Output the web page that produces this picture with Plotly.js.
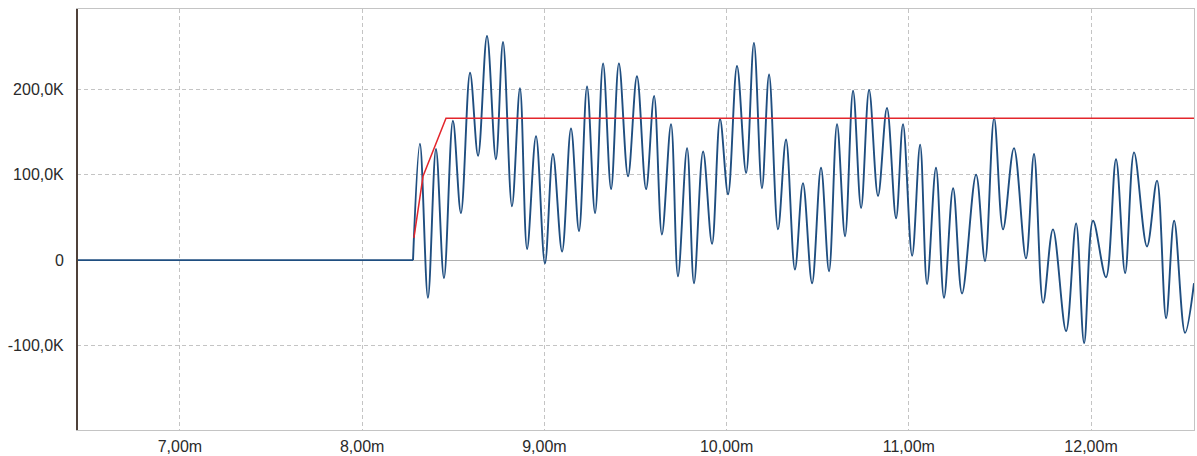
<!DOCTYPE html>
<html>
<head>
<meta charset="utf-8">
<script src="https://cdn.plot.ly/plotly-3.0.1.min.js"></script>
<style>
  html, body { margin: 0; padding: 0; background: #ffffff; }
  #chart { width: 1197px; height: 456px; }
</style>
</head>
<body>
<div id="chart"></div>
<script>
// Blue signal before the start: flat at zero
const idleTime = [6.435, 8.279];
const idleValue = [0, 0];

// Blue signal: time (m units) and value (K units), read at the extrema of the trace
const signalTime = [
  8.279, 8.317, 8.361, 8.405, 8.449, 8.498, 8.542, 8.592, 8.636,
  8.685, 8.734, 8.773, 8.822, 8.866, 8.905, 8.954, 9.003, 9.047, 9.097,
  9.146, 9.190, 9.234, 9.278, 9.322, 9.366, 9.409, 9.459, 9.508, 9.558,
  9.602, 9.645, 9.695, 9.733, 9.783, 9.821, 9.871, 9.920, 9.964, 10.008,
  10.057, 10.107, 10.150, 10.194, 10.233, 10.282, 10.326, 10.375, 10.419, 10.469,
  10.518, 10.562, 10.606, 10.650, 10.694, 10.738, 10.782, 10.831, 10.880, 10.930,
  10.968, 11.018, 11.062, 11.100, 11.149, 11.193, 11.243, 11.292, 11.369, 11.418,
  11.468, 11.517, 11.577, 11.643, 11.687, 11.737, 11.791, 11.863, 11.918, 11.962,
  12.011, 12.082, 12.137, 12.187, 12.236, 12.307, 12.362, 12.412, 12.456, 12.516,
  12.565
];
const signalValue = [
  0, 136, -44, 130, -21, 163, 55, 219, 122,
  262, 118, 255, 63, 201, 13, 145, -4, 124, 10,
  154, 34, 203, 55, 230, 83, 230, 98, 215, 83,
  192, 30, 159, -19, 131, -27, 127, 19, 165, 77,
  227, 102, 254, 84, 217, 36, 141, -11, 90, -27,
  108, -13, 159, 28, 198, 61, 199, 75, 178, 49,
  159, 5, 135, -28, 108, -44, 84, -39, 100, -1,
  166, 36, 131, 2, 124, -50, 36, -83, 43, -97,
  46, -20, 118, -15, 126, 16, 93, -68, 46, -85,
  -27
];

// Red reference ramp
const rampTime = [8.284, 8.334, 8.460, 12.565];
const rampValue = [26, 98, 166, 166];

// Axis ticks
const xTickValues = [7, 8, 9, 10, 11, 12];
const xTickLabels = ["7,00m", "8,00m", "9,00m", "10,00m", "11,00m", "12,00m"];
const yTickValues = [-100, 0, 100, 200];
const yTickLabels = ["-100,0K", "0", "100,0K", "200,0K"];

const blue = "#1f4e80";

const traces = [
  {
    x: idleTime, y: idleValue, type: "scatter", mode: "lines",
    line: { color: blue, width: 1.9 },
    hoverinfo: "skip"
  },
  {
    x: signalTime, y: signalValue, type: "scatter", mode: "lines",
    line: { color: blue, width: 1.9, shape: "spline", smoothing: 1 },
    hoverinfo: "skip"
  },
  {
    x: rampTime, y: rampValue, type: "scatter", mode: "lines",
    line: { color: "#e3262c", width: 1.5 },
    hoverinfo: "skip"
  }
];

const fontFamily = "'Liberation Sans', Arial, sans-serif";

const layout = {
  width: 1197, height: 456,
  margin: { l: 77, r: 3, t: 9, b: 26, pad: 0 },
  paper_bgcolor: "#ffffff", plot_bgcolor: "#ffffff",
  showlegend: false,
  font: { family: fontFamily, size: 16, color: "#2a2a2a" },
  xaxis: {
    range: [6.435, 12.565],
    tickvals: xTickValues, ticktext: xTickLabels,
    showgrid: true, gridcolor: "#c4c4c4", griddash: "4px,3px", gridwidth: 1,
    zeroline: false,
    showline: true, linecolor: "#c4c4c4", linewidth: 1, mirror: true,
    ticks: "outside", ticklen: 2, tickcolor: "rgba(0,0,0,0)",
    tickfont: { family: fontFamily, size: 16, color: "#2a2a2a" },
    fixedrange: true
  },
  yaxis: {
    range: [-198.6, 293.6],
    tickvals: yTickValues, ticktext: yTickLabels,
    showgrid: true, gridcolor: "#c4c4c4", griddash: "4px,3px", gridwidth: 1,
    zeroline: true, zerolinecolor: "#b0b0b0", zerolinewidth: 1,
    showline: true, linecolor: "#c4c4c4", linewidth: 1, mirror: true,
    ticks: "outside", ticklen: 9, tickcolor: "rgba(0,0,0,0)",
    tickfont: { family: fontFamily, size: 16, color: "#2a2a2a" },
    fixedrange: true
  },
  shapes: [
    {
      type: "line", xref: "paper", yref: "paper",
      x0: 0, x1: 0, y0: 0, y1: 1,
      line: { color: "#4f413a", width: 2 }
    }
  ]
};

Plotly.newPlot("chart", traces, layout, { staticPlot: true, displayModeBar: false });
</script>
</body>
</html>
